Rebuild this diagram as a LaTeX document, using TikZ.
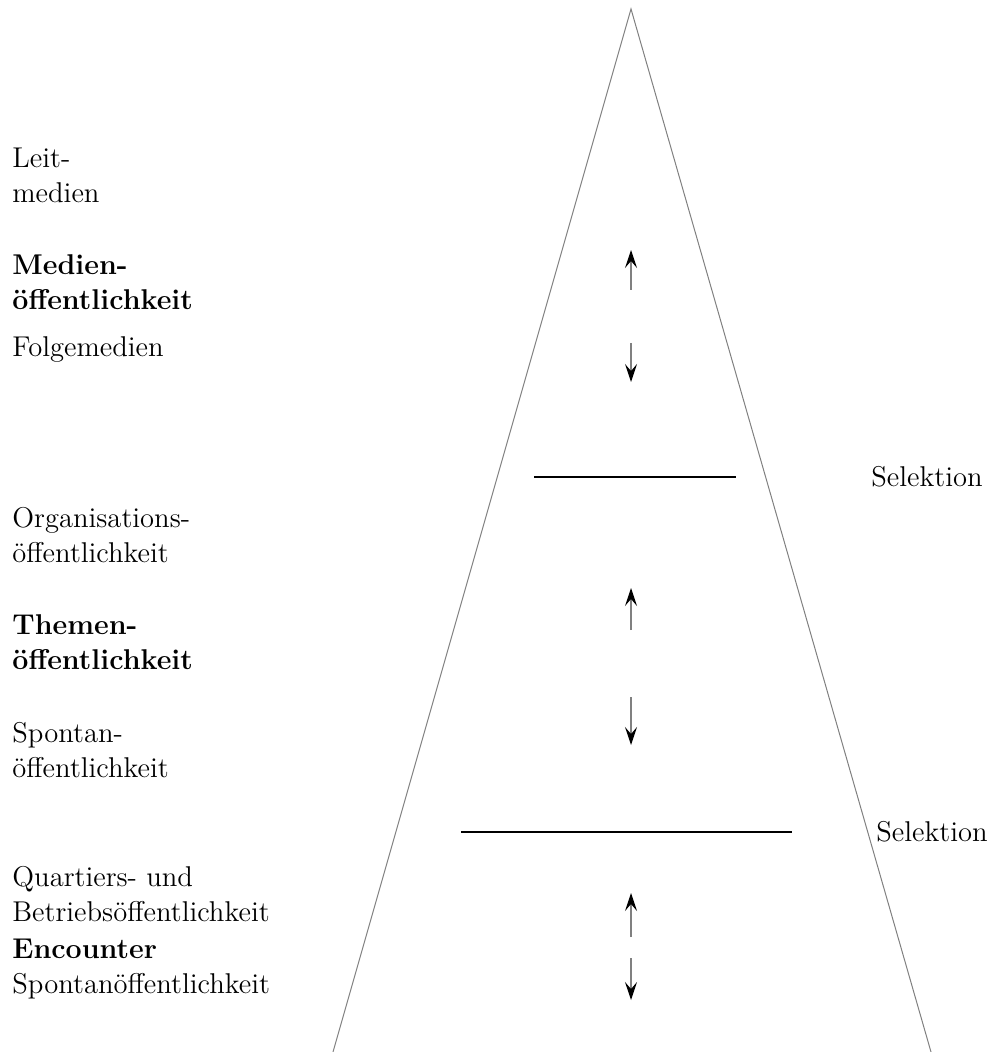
\documentclass[tikz,border=0pt]{standalone}
\usetikzlibrary{arrows.meta}
\begin{document}
\begin{tikzpicture}[x=0.5pt,y=-0.5pt,
        lbl/.style={anchor=base west, inner sep=0pt, align=left, font=\fontsize{14.3}{17.5}\selectfont},
        sel/.style={line width=1pt},
        pfeil/.style={gray, line width=0.6pt, -{Stealth[length=9pt,width=6pt,inset=3.5pt,black]}}]
        \useasboundingbox (0,0) rectangle (996,1052);
    % pyramid
        \coordinate (top) at (631,9);
        \coordinate (bl) at (333,1052);
        \coordinate (br) at (931,1052);
        \draw[gray, line width=0.5pt] (bl) -- (top) -- (br);
    % selection
        \coordinate (s1a) at (534,477);
        \coordinate (s1b) at (736,477);
        \coordinate (s2a) at (461,832);
        \coordinate (s2b) at (792,832);
        \draw[sel] (s1a) -- (s1b);
        \draw[sel] (s2a) -- (s2b);
        \node[lbl, anchor=west] (sel1) at (871,477) {Selektion};
        \node[lbl, anchor=west] (sel2) at (876,832) {Selektion};
    % arrows
        \foreach \n/\ua/\ub/\da/\db in {1/290/250/343/382, 2/630/588/697/745, 3/937/893/958/1000}{
            \coordinate (up\n a) at (631,\ua);
            \coordinate (up\n b) at (631,\ub);
            \coordinate (dn\n a) at (631,\da);
            \coordinate (dn\n b) at (631,\db);
            \draw[pfeil] (up\n a) -- (up\n b);
            \draw[pfeil] (dn\n a) -- (dn\n b);
        }
    % labels (base = last line)
        \node[lbl] (leit) at (12,203) {Leit-\\medien};
        \node[lbl, font=\fontsize{14.3}{17.5}\selectfont\bfseries] (medien) at (12,310) {Medien-\\öffentlichkeit};
        \node[lbl] (folge) at (12,357) {Folgemedien};
        \node[lbl] (orga) at (12,562) {Organisations-\\öffentlichkeit};
        \node[lbl, font=\fontsize{14.3}{17.5}\selectfont\bfseries] (themen) at (12,669) {Themen-\\öffentlichkeit};
        \node[lbl] (spontan) at (12,777) {Spontan-\\öffentlichkeit};
        \node[lbl] (quartier) at (12,921) {Quartiers- und\\Betriebsöffentlichkeit};
        \node[lbl] (encounter) at (12,993) {\textbf{Encounter}\\Spontanöffentlichkeit};
\end{tikzpicture}
\end{document}
